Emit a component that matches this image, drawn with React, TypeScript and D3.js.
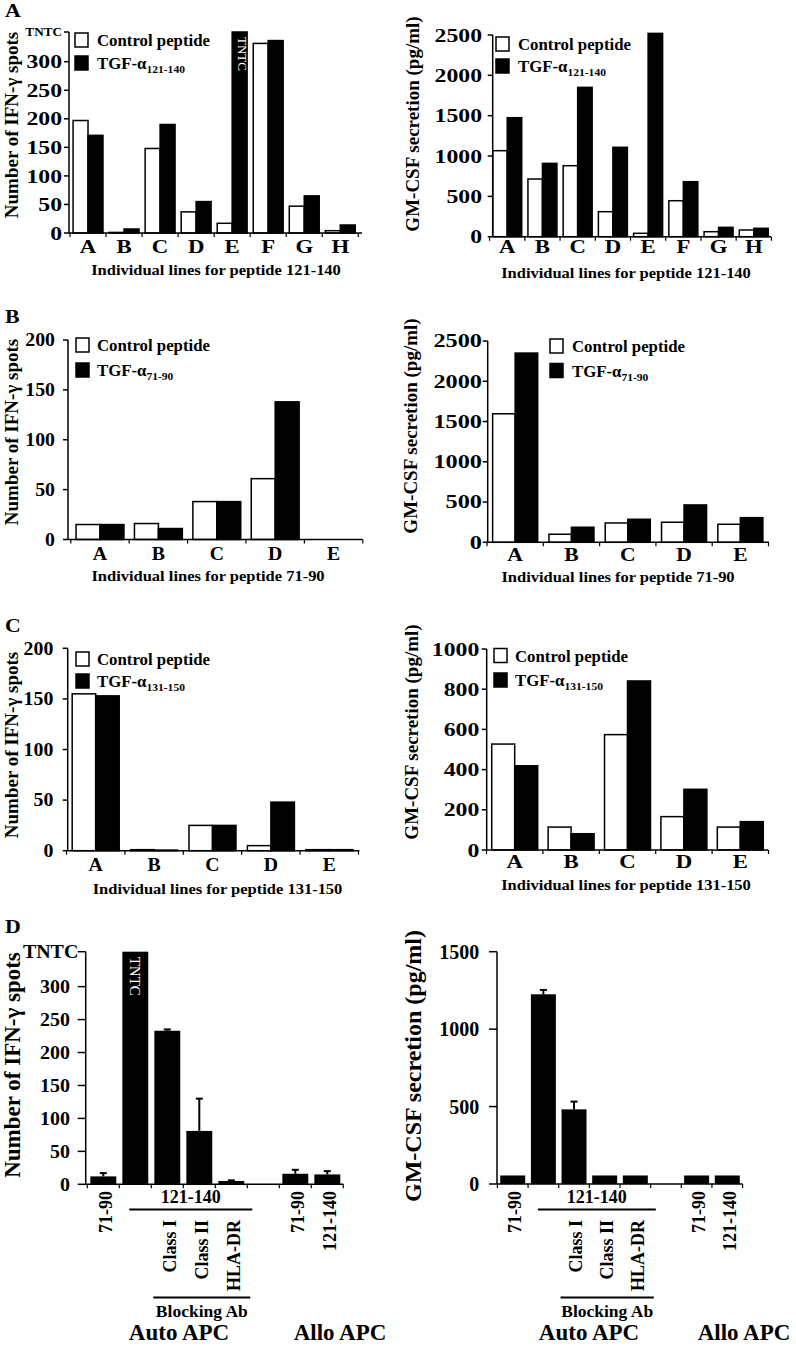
import React from "react";
import * as d3 from "d3";

const FONT = "'Liberation Serif', 'Times New Roman', serif";

// ---------- Panel A ----------
const linesA = ["A", "B", "C", "D", "E", "F", "G", "H"];
const TNTC_A = 352;
const ifnA_control = [197, 1, 148, 37, 17, 332, 47, 4];
const ifnA_tgf = [171, 7, 190, 55, TNTC_A, 337, 65, 14];
const gmA_control = [1066, 715, 880, 310, 42, 446, 62, 83];
const gmA_tgf = [1475, 909, 1851, 1108, 2520, 682, 116, 104];

// ---------- Panel B ----------
const linesB = ["A", "B", "C", "D", "E"];
const ifnB_control = [15, 16, 38, 61, 0];
const ifnB_tgf = [15, 11, 38, 138, 0];
const gmB_control = [1596, 100, 240, 249, 224];
const gmB_tgf = [2350, 187, 286, 464, 306];

// ---------- Panel C ----------
const ifnC_control = [155, 1, 25, 5, 1];
const ifnC_tgf = [153, 0.6, 25, 48, 1];
const gmC_control = [527, 114, 574, 166, 114];
const gmC_tgf = [419, 81, 841, 302, 141];

// ---------- Panel D ----------
const TNTC_D = 353;
const dKeys = ["auto71", "auto121", "classI", "classII", "hlaDR", "gap", "allo71", "allo121"];
const dLabels = ["71-90", "", "Class I", "Class II", "HLA-DR", "", "71-90", "121-140"];
const ifnD = [12, TNTC_D, 233, 81, 5, null, 16, 15];
const ifnD_err = [5, 0, 2, 49, 1, 0, 6, 5];
const gmD = [55, 1225, 482, 55, 55, null, 55, 55];
const gmD_err = [0, 28, 50, 0, 0, 0, 0, 0];

// tick values
const ifnTicks = [0, 50, 100, 150, 200, 250, 300];
const ifnTicks200 = [0, 50, 100, 150, 200];
const gmTicks2500 = [0, 500, 1000, 1500, 2000, 2500];
const gmTicks1000 = [0, 200, 400, 600, 800, 1000];
const gmTicks1500 = [0, 500, 1000, 1500];

const LEGEND_CONTROL = "Control peptide";

function SText({ x, y, sx = 1, anchor = "start", fs, weight = "bold", children, fill = "#000", dy }: any) {
  return (
    <text
      transform={`translate(${x},${y}) scale(${sx},1)`}
      textAnchor={anchor}
      fontSize={fs}
      fontWeight={weight}
      fontFamily={FONT}
      fill={fill}
      dy={dy}
    >
      {children}
    </text>
  );
}

function YTicks({ y, ticks, ax, len, end, fs, sx, top }: any) {
  return (
    <g>
      {ticks.map((t: number) => (
        <g key={t}>
          <line x1={ax - len} x2={ax} y1={y(t)} y2={y(t)} stroke="#000" strokeWidth={1.5} />
          <SText x={end} y={y(t)} sx={sx} anchor="end" fs={fs} dy="0.35em">
            {t}
          </SText>
        </g>
      ))}
      {top && (
        <g>
          <line x1={ax - len} x2={ax} y1={y(top.value)} y2={y(top.value)} stroke="#000" strokeWidth={1.5} />
          <SText x={top.end} y={y(top.value)} sx={top.sx} anchor="end" fs={top.fs} dy="0.35em">
            TNTC
          </SText>
        </g>
      )}
    </g>
  );
}

function YTitle({ x, cy, fs, children }: any) {
  return (
    <text
      transform={`translate(${x},${cy}) rotate(-90)`}
      textAnchor="middle"
      fontSize={fs}
      fontWeight="bold"
      fontFamily={FONT}
    >
      {children}
    </text>
  );
}

function Legend({ bx, b1, b2, tx, sub }: any) {
  const bw = 13;
  const bh = 14;
  return (
    <g fontFamily={FONT} fontWeight="bold">
      <rect x={bx} y={b1} width={bw} height={bh} fill="#fff" stroke="#000" strokeWidth={1.5} />
      <rect x={bx} y={b2} width={bw} height={bh} fill="#000" stroke="#000" strokeWidth={1.5} />
      <text transform={`translate(${tx},${b1 + bh - 1}) scale(1.05,1)`} fontSize={16}>
        {LEGEND_CONTROL}
      </text>
      <text transform={`translate(${tx},${b2 + bh - 1}) scale(1.05,1)`} fontSize={16}>
        TGF-α
        <tspan fontSize={11} dy={4}>
          {sub}
        </tspan>
      </text>
    </g>
  );
}

function GroupedPanel(p: any) {
  const x0 = d3
    .scaleBand()
    .domain(p.cats)
    .range(p.xRange)
    .paddingInner(p.pi)
    .paddingOuter(p.pi / 2);
  const x1 = d3.scaleBand().domain(["c", "t"]).range([0, x0.bandwidth()]);
  const y = d3.scaleLinear().domain([0, p.yMax]).range([p.y0, p.yTop]);
  const step = x0.step();
  const bounds = d3.range(p.cats.length + 1).map((i) => p.xRange[0] + i * step);
  return (
    <g>
      {p.letter && (
        <SText x={p.letter[0]} y={p.letter[1]} sx={1.15} fs={19}>
          {p.letter[2]}
        </SText>
      )}
      {p.cats.map((c: string, i: number) => {
        const vc = p.control[i];
        const vt = p.tgf[i];
        const bx = x0(c)!;
        const bw = x1.bandwidth();
        return (
          <g key={c}>
            {vc > 0 && (
              <rect
                x={bx + x1("c")!}
                y={y(vc)}
                width={bw}
                height={p.y0 - y(vc)}
                fill="#fff"
                stroke="#000"
                strokeWidth={1.5}
              />
            )}
            {vt > 0 && (
              <rect
                x={bx + x1("t")!}
                y={y(vt)}
                width={bw}
                height={p.y0 - y(vt)}
                fill="#000"
                stroke="#000"
                strokeWidth={1.5}
              />
            )}
            {p.tntcIndex === i && (
              <text
                transform={`translate(${bx + x1("t")! + bw / 2 + 3},${y(vt) + 5}) rotate(90)`}
                fontSize={13}
                fontFamily={FONT}
                fill="#fff"
                dy="0.35em"
              >
                TNTC
              </text>
            )}
          </g>
        );
      })}
      <line x1={p.axisX[0]} x2={p.axisX[0]} y1={p.y0} y2={p.yTop} stroke="#000" strokeWidth={1.5} />
      <line x1={p.axisX[0]} x2={p.axisX[1]} y1={p.y0} y2={p.y0} stroke="#000" strokeWidth={1.5} />
      {bounds.map((b: number, i: number) => (
        <line key={i} x1={b} x2={b} y1={p.y0} y2={p.y0 + 4} stroke="#000" strokeWidth={1.2} />
      ))}
      <YTicks y={y} ticks={p.ticks} ax={p.axisX[0]} len={5} end={p.tickEnd} fs={p.tickFs} sx={p.tickSx} top={p.top} />
      {p.cats.map((c: string) => (
        <SText key={c} x={x0(c)! + x0.bandwidth() / 2} y={p.catY} sx={p.catSx} anchor="middle" fs={p.tickFs}>
          {c}
        </SText>
      ))}
      <SText x={p.xTitle[1]} y={p.xTitle[2]} sx={1.1} anchor="middle" fs={15}>
        {p.xTitle[0]}
      </SText>
      <YTitle x={p.yTitle[1]} cy={p.yTitle[2]} fs={p.yTitle[3]}>
        {p.yTitle[0]}
      </YTitle>
      <Legend {...p.legend} />
    </g>
  );
}

function DPanel(p: any) {
  const x = d3
    .scaleBand()
    .domain(dKeys)
    .range(p.xRange)
    .paddingInner(p.pi)
    .paddingOuter(p.pi / 2);
  const y = d3.scaleLinear().domain([0, p.yMax]).range([p.y0, p.yTop]);
  const bw = x.bandwidth();
  const step = x.step();
  const bounds = d3.range(dKeys.length + 1).map((i) => p.xRange[0] + i * step);
  const l121a = x("auto121")! + 7;
  const l121b = x("hlaDR")! + bw + 8;
  const lBa = x("classI")! - 1;
  const lBb = x("hlaDR")! + bw + 6;
  return (
    <g>
      {p.letter && (
        <SText x={p.letter[0]} y={p.letter[1]} sx={1.15} fs={19}>
          {p.letter[2]}
        </SText>
      )}
      {dKeys.map((k, i) => {
        const v = p.values[i];
        if (v == null) return null;
        const cx = x(k)! + bw / 2;
        const e = p.err[i];
        return (
          <g key={k}>
            <rect x={x(k)!} y={y(v)} width={bw} height={p.y0 - y(v)} fill="#000" />
            {e > 0 && (
              <g stroke="#000" strokeWidth={2}>
                <line x1={cx} x2={cx} y1={y(v)} y2={y(v + e)} />
                <line x1={cx - 3.5} x2={cx + 3.5} y1={y(v + e)} y2={y(v + e)} />
              </g>
            )}
            {p.tntcIndex === i && (
              <text
                transform={`translate(${cx},${y(v) + 5}) rotate(90)`}
                fontSize={15}
                fontFamily={FONT}
                fill="#fff"
                dy="0.35em"
              >
                TNTC
              </text>
            )}
          </g>
        );
      })}
      <line x1={p.axisX[0]} x2={p.axisX[0]} y1={p.y0} y2={p.yTop} stroke="#000" strokeWidth={1.5} />
      <line x1={p.axisX[0]} x2={p.axisX[1]} y1={p.y0} y2={p.y0} stroke="#000" strokeWidth={1.5} />
      {bounds.map((b: number, i: number) => (
        <line key={i} x1={b} x2={b} y1={p.y0} y2={p.y0 + 4} stroke="#000" strokeWidth={1.2} />
      ))}
      <YTicks y={y} ticks={p.ticks} ax={p.axisX[0]} len={8} end={p.tickEnd} fs={p.tickFs} sx={p.tickSx} top={p.top} />
      {dKeys.map((k, i) => {
        const lab = dLabels[i];
        if (!lab) return null;
        const cx = x(k)! + bw / 2 + 2;
        const top = i >= 2 && i <= 4 ? 1220 : 1191;
        return (
          <text
            key={k}
            transform={`translate(${cx},${top}) rotate(-90)`}
            textAnchor="end"
            fontSize={18}
            fontWeight="bold"
            fontFamily={FONT}
            dy="0.35em"
          >
            {lab}
          </text>
        );
      })}
      <SText x={(l121a + l121b) / 2} y={1203} anchor="middle" fs={18}>
        121-140
      </SText>
      <line x1={l121a} x2={l121b} y1={1209.5} y2={1209.5} stroke="#000" strokeWidth={2.2} />
      <line x1={lBa} x2={lBb} y1={1297.5} y2={1297.5} stroke="#000" strokeWidth={2.2} />
      <SText x={(lBa + lBb) / 2} y={1317} anchor="middle" fs={17.5}>
        Blocking Ab
      </SText>
      <SText x={p.autoX} y={1340} anchor="middle" fs={23}>
        Auto APC
      </SText>
      <SText x={p.alloX} y={1340} anchor="middle" fs={23}>
        Allo APC
      </SText>
      <YTitle x={p.yTitle[1]} cy={p.yTitle[2]} fs={p.yTitle[3]}>
        {p.yTitle[0]}
      </YTitle>
    </g>
  );
}

const IFN_TITLE = "Number of IFN-γ spots";
const GM_TITLE = "GM-CSF secretion (pg/ml)";

export default function App() {
  return (
    <svg
      width={796}
      height={1348}
      viewBox="0 0 796 1348"
      style={{ position: "absolute", left: 0, top: 0, background: "#fff" }}
    >
      <rect width={796} height={1348} fill="#fff" />
      <GroupedPanel
        letter={[5, 17, "A"]}
        cats={linesA}
        control={ifnA_control}
        tgf={ifnA_tgf}
        xRange={[70, 358.3]}
        pi={0.17}
        axisX={[69, 362]}
        yMax={TNTC_A}
        y0={233}
        yTop={32}
        ticks={ifnTicks}
        top={{ value: TNTC_A, end: 62, fs: 12, sx: 1.1 }}
        tickEnd={62}
        tickFs={19}
        tickSx={1.25}
        catY={253}
        catSx={1.2}
        xTitle={["Individual lines for peptide 121-140", 216, 275]}
        yTitle={[IFN_TITLE, 18, 125, 19]}
        legend={{ bx: 75, b1: 33, b2: 56, tx: 97, sub: "121-140" }}
        tntcIndex={4}
      />
      <GroupedPanel
        cats={linesA}
        control={gmA_control}
        tgf={gmA_tgf}
        xRange={[489.6, 771.4]}
        pi={0.177}
        axisX={[492.7, 771]}
        yMax={2500}
        y0={236.7}
        yTop={35}
        ticks={gmTicks2500}
        tickEnd={482}
        tickFs={19}
        tickSx={1.25}
        catY={253}
        catSx={1.2}
        xTitle={["Individual lines for peptide 121-140", 626, 278]}
        yTitle={[GM_TITLE, 419, 124, 19]}
        legend={{ bx: 496, b1: 37, b2: 59, tx: 518, sub: "121-140" }}
      />
      <GroupedPanel
        letter={[5, 323, "B"]}
        cats={linesB}
        control={ifnB_control}
        tgf={ifnB_tgf}
        xRange={[70.8, 362.8]}
        pi={0.18}
        axisX={[68, 362.7]}
        yMax={200}
        y0={539.5}
        yTop={340}
        ticks={ifnTicks200}
        tickEnd={55}
        tickFs={18}
        tickSx={1.1}
        catY={560}
        catSx={1.1}
        xTitle={["Individual lines for peptide 71-90", 208, 581]}
        yTitle={[IFN_TITLE, 18, 432, 19]}
        legend={{ bx: 76, b1: 338, b2: 363, tx: 97, sub: "71-90" }}
      />
      <GroupedPanel
        cats={linesB}
        control={gmB_control}
        tgf={gmB_tgf}
        xRange={[487, 768.5]}
        pi={0.2}
        axisX={[487.7, 769]}
        yMax={2500}
        y0={542.3}
        yTop={341}
        ticks={gmTicks2500}
        tickEnd={482}
        tickFs={18}
        tickSx={1.35}
        catY={561}
        catSx={1.2}
        xTitle={["Individual lines for peptide 71-90", 618, 582]}
        yTitle={[GM_TITLE, 417, 426, 19]}
        legend={{ bx: 550, b1: 339, b2: 363.5, tx: 572, sub: "71-90" }}
      />
      <GroupedPanel
        letter={[5, 632, "C"]}
        cats={linesB}
        control={ifnC_control}
        tgf={ifnC_tgf}
        xRange={[66.5, 358.5]}
        pi={0.195}
        axisX={[67.7, 359.3]}
        yMax={200}
        y0={850.7}
        yTop={648.3}
        ticks={ifnTicks200}
        tickEnd={53.3}
        tickFs={18}
        tickSx={1.1}
        catY={871}
        catSx={1.1}
        xTitle={["Individual lines for peptide 131-150", 217.5, 894]}
        yTitle={[IFN_TITLE, 18, 745, 19]}
        legend={{ bx: 76, b1: 652, b2: 674, tx: 97, sub: "131-150" }}
      />
      <GroupedPanel
        cats={linesB}
        control={gmC_control}
        tgf={gmC_tgf}
        xRange={[486.5, 768.5]}
        pi={0.185}
        axisX={[486.7, 768.3]}
        yMax={1000}
        y0={850}
        yTop={649}
        ticks={gmTicks1000}
        tickEnd={479.3}
        tickFs={19}
        tickSx={1.25}
        catY={868}
        catSx={1.2}
        xTitle={["Individual lines for peptide 131-150", 626, 890]}
        yTitle={[GM_TITLE, 418, 732, 19]}
        legend={{ bx: 494, b1: 648.5, b2: 673, tx: 515, sub: "131-150" }}
      />
      <DPanel
        letter={[5, 933, "D"]}
        values={ifnD}
        err={ifnD_err}
        xRange={[87.3, 343.3]}
        pi={0.19}
        axisX={[85.7, 343.3]}
        yMax={TNTC_D}
        y0={1184.3}
        yTop={951.7}
        ticks={ifnTicks}
        top={{ value: TNTC_D, end: 78.3, fs: 19, sx: 1.05 }}
        tickEnd={70}
        tickFs={19}
        tickSx={1.05}
        tntcIndex={1}
        autoX={179}
        alloX={340}
        yTitle={[IFN_TITLE, 20, 1065, 23]}
      />
      <DPanel
        values={gmD}
        err={gmD_err}
        xRange={[497.4, 742.6]}
        pi={0.185}
        axisX={[497, 742.7]}
        yMax={1500}
        y0={1184}
        yTop={951.7}
        ticks={gmTicks1500}
        tickEnd={479.3}
        tickFs={20}
        tickSx={1.0}
        autoX={589}
        alloX={744}
        yTitle={[GM_TITLE, 421, 1066, 24]}
      />
    </svg>
  );
}
